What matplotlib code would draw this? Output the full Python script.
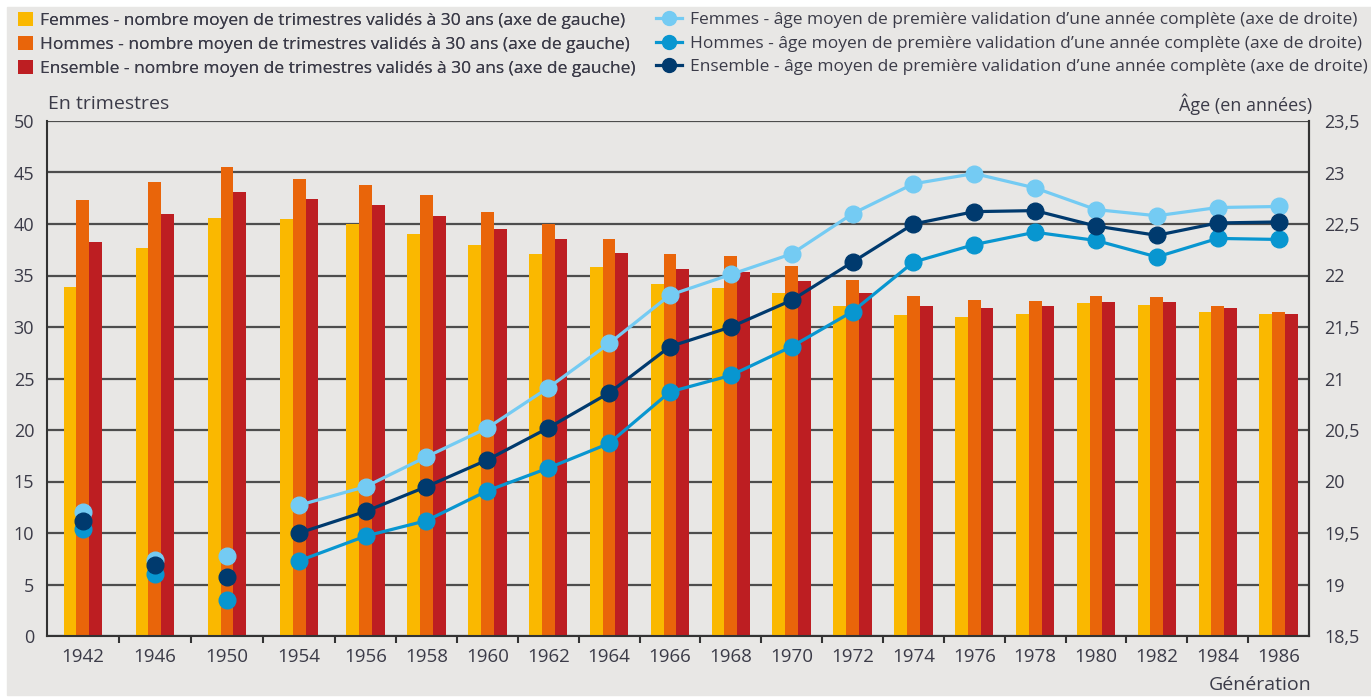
import matplotlib
matplotlib.use('Agg')
import matplotlib.pyplot as plt
import numpy as np
from matplotlib.lines import Line2D
from matplotlib.patches import Patch, Rectangle

plt.rcParams['font.family'] = ['Open Sans', 'DejaVu Sans']

# data
generations = [1942, 1946, 1950, 1954, 1956, 1958, 1960, 1962, 1964, 1966,
               1968, 1970, 1972, 1974, 1976, 1978, 1980, 1982, 1984, 1986]
trim_femmes = [33.9, 37.7, 40.6, 40.5, 40.0, 39.0, 38.0, 37.1, 35.8, 34.2,
               33.8, 33.3, 32.0, 31.2, 31.0, 31.3, 32.3, 32.1, 31.5, 31.3]
trim_hommes = [42.3, 44.1, 45.5, 44.4, 43.8, 42.8, 41.2, 40.0, 38.5, 37.1,
               36.9, 35.9, 34.6, 33.0, 32.6, 32.5, 33.0, 32.9, 32.0, 31.5]
trim_ensemble = [38.3, 41.0, 43.1, 42.4, 41.8, 40.8, 39.5, 38.5, 37.2, 35.6,
                 35.3, 34.5, 33.3, 32.0, 31.8, 32.0, 32.45, 32.4, 31.8, 31.3]
age_femmes = [19.70, 19.24, 19.28, 19.77, 19.95, 20.24, 20.52, 20.91, 21.34, 21.81,
              22.01, 22.21, 22.60, 22.89, 22.99, 22.85, 22.64, 22.58, 22.66, 22.67]
age_hommes = [19.54, 19.10, 18.85, 19.23, 19.47, 19.62, 19.91, 20.13, 20.37, 20.87,
              21.03, 21.31, 21.65, 22.13, 22.30, 22.42, 22.34, 22.18, 22.36, 22.35]
age_ensemble = [19.62, 19.19, 19.07, 19.50, 19.71, 19.95, 20.21, 20.52, 20.86, 21.31,
                21.50, 21.76, 22.13, 22.50, 22.62, 22.63, 22.48, 22.39, 22.51, 22.52]

lbl_bars = ["Femmes - nombre moyen de trimestres validés à 30 ans (axe de gauche)",
            "Hommes - nombre moyen de trimestres validés à 30 ans (axe de gauche)",
            "Ensemble - nombre moyen de trimestres validés à 30 ans (axe de gauche)"]
lbl_lines = ["Femmes - âge moyen de première validation d\u2019une année complète (axe de droite)",
             "Hommes - âge moyen de première validation d\u2019une année complète (axe de droite)",
             "Ensemble - âge moyen de première validation d\u2019une année complète (axe de droite)"]

bg = '#e8e7e5'
c_bars = ['#fab800', '#e9650a', '#bd1e22']
c_lines = ['#74cbf3', '#0896d0', '#003a6e']
txt = '#3b3b48'

# categories after a 4-year step are drawn a bit wider, as in the original
years = np.array(generations)
widths = np.where(np.r_[True, np.diff(years) == 4], 1.185, 1.0)
edges = np.r_[0, np.cumsum(widths)]
x = edges[:-1] + widths / 2

fig = plt.figure(figsize=(13.71, 7.0), dpi=100)
fig.patch.set_facecolor('white')
fig.patches.append(Rectangle((7 / 1371, 5 / 700), 1 - 7 / 1371, 688 / 700,
                             transform=fig.transFigure, color=bg, zorder=-10))

ax = fig.add_axes([46.7 / 1371, 64 / 700, (1309 - 46.7) / 1371, 515 / 700])
ax.set_facecolor(bg)
bw = 0.21
for k, (vals, col) in enumerate(zip([trim_femmes, trim_hommes, trim_ensemble], c_bars)):
    ax.bar(x + (k - 1) * bw, vals, bw, color=col, zorder=2)

ax.set_xlim(0, edges[-1])
ax.set_ylim(0, 50)
ax.set_yticks(np.arange(0, 51, 5))
ax.set_yticklabels([str(v) for v in range(0, 51, 5)])
ax.yaxis.grid(True, color='#4d4d4d', linewidth=1.6, zorder=0)
ax.set_axisbelow(True)
ax.tick_params(axis='y', length=0, pad=9, labelsize=13, labelcolor=txt)

ax.set_xticks(edges[1:-1])
ax.set_xticklabels([])
ax.tick_params(axis='x', which='major', length=5, width=1.5, color='#333333')
ax.set_xticks(x, minor=True)
ax.set_xticklabels([str(g) for g in generations], minor=True)
ax.tick_params(axis='x', which='minor', length=0, pad=9, labelsize=13.5, labelcolor=txt)

ax.spines['top'].set_visible(False)
for s in ['left', 'bottom', 'right']:
    ax.spines[s].set_color('#333333')
    ax.spines[s].set_linewidth(1.5)

ax2 = ax.twinx()
ax2.set_ylim(18.5, 23.5)
ticks2 = np.arange(18.5, 23.51, 0.5)
ax2.set_yticks(ticks2)
ax2.set_yticklabels([('%g' % t).replace('.', ',') for t in ticks2])
ax2.tick_params(axis='y', length=0, pad=11, labelsize=13, labelcolor=txt)
for s in ['top', 'left', 'bottom']:
    ax2.spines[s].set_visible(False)
ax2.spines['right'].set_color('#333333')
ax2.spines['right'].set_linewidth(1.5)

n0 = 3  # the first three generations have no connecting line
for vals, col in zip([age_femmes, age_hommes, age_ensemble], c_lines):
    ax2.plot(x[n0:], vals[n0:], color=col, linewidth=2.3, marker='o',
             markersize=12, zorder=3)
    ax2.plot(x[:n0], vals[:n0], color=col, linestyle='none', marker='o',
             markersize=12, zorder=3)

fig.text(48 / 1371, 1 - 104 / 700, "En trimestres", ha='left', va='center',
         fontsize=14, color=txt)
fig.text(1312 / 1371, 1 - 104 / 700, "Âge (en années)", ha='right', va='center',
         fontsize=13, color=txt)
fig.text(1312 / 1371, 1 - 685 / 700, "Génération", ha='right', va='center',
         fontsize=14, color=txt)

h_bars = [Patch(facecolor=c) for c in c_bars]
h_lines = [Line2D([0], [0], color=c, linewidth=2.3, marker='o', markersize=10)
           for c in c_lines]
leg1 = fig.legend(h_bars, lbl_bars, loc='upper left', bbox_to_anchor=(18 / 1371, 1 - 12 / 700),
                  frameon=False, fontsize=12.5, handlelength=0.85, handleheight=0.85,
                  handletextpad=0.4, labelspacing=0.42, borderpad=0, borderaxespad=0,
                  labelcolor=txt)
leg2 = fig.legend(h_lines, lbl_lines, loc='upper left', bbox_to_anchor=(656 / 1371, 1 - 12 / 700),
                  frameon=False, fontsize=12.5, handlelength=1.5,
                  handletextpad=0.45, labelspacing=0.42, borderpad=0, borderaxespad=0,
                  labelcolor=txt)
fig.add_artist(leg1)

fig.savefig('out.png', dpi=100, facecolor=fig.get_facecolor())
